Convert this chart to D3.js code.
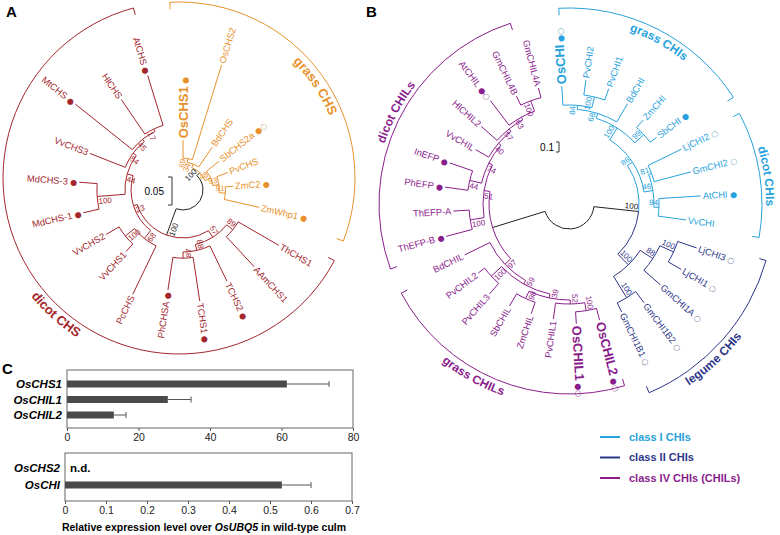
<!DOCTYPE html>
<html><head><meta charset="utf-8">
<script src="https://cdn.jsdelivr.net/npm/d3@7"></script>
<style>body{margin:0;background:#fff}svg{display:block}</style>
</head><body>
<svg id="c" width="780" height="535"></svg>
<script>
// ---------------- DATA ----------------
// Panel A: CHS tree (Newick, branch lengths in substitutions/site, internal labels = bootstrap)
const treeA_grass = "(((OsCHS1:0.032,OsCHS2:0.177)69:0.007,BdCHS:0.043)34:0.007,(SbCHS2a:0.029,(PvCHS:0.021,(ZmC2:0.014,ZmWhp1:0.064)91:0.011)93:0.011)48:0.011)100:0.007";
const treeA_dicot = "(((ThCHS1:0.084,AAmCHS1:0.073)89:0.014,(TCHS2:0.070,(TCHS1:0.079,PhCHSA:0.059)87:0.011)88:0.011)57:0.014,((PcCHS:0.096,(VvCHS1:0.018,VvCHS2:0.027)100:0.021)68:0.018,((MdCHS-1:0.029,MdCHS-3:0.032)100:0.050,(VvCHS3:0.068,(MtCHS:0.130,(HlCHS:0.075,AtCHS:0.093)17:0.005)45:0.005)54:0.007)44:0.011)23:0.007)100:0.050";
const grassCHS = ["OsCHS1","OsCHS2","BdCHS","SbCHS2a","PvCHS","ZmC2","ZmWhp1"];
const filledA = ["OsCHS1","SbCHS2a","ZmC2","ZmWhp1","TCHS2","TCHS1","PhCHSA","MdCHS-1","MdCHS-3","MtCHS","AtCHS"];
const openA = ["SbCHS2a"];
const boldA = ["OsCHS1"];

// Panel B: CHI / CHIL tree
const treeB_grassCHI = "(((OsCHI:0.19,(PvCHI2:0.15,PvCHI1:0.12)100:0.11)84:0.04,BdCHI:0.21)68:0.05,(ZmCHI:0.10,SbCHI:0.08)99:0.12)100:0.14";
const treeB_dicotCHI = "((LjCHI2:0.37,GmCHI2:0.38)81:0.03,(AtCHI:0.42,VvCHI:0.28)94:0.05)46:0.09";
const treeB_legume = "(((LjCHI3:0.20,LjCHI1:0.15)100:0.15,GmCHI1A:0.22)88:0.15,(GmCHI1B2:0.14,GmCHI1B1:0.10)100:0.25)100:0.15";
const treeB_grassCHIL = "(((((OsCHIL2:0.12,OsCHIL1:0.12)100:0.08,PvCHIL1:0.16)52:0.04,(ZmCHIL:0.12,SbCHIL:0.14)98:0.08)39:0.04,(PvCHIL3:0.14,PvCHIL2:0.08)100:0.14)59:0.04,BdCHIL:0.28)97:0.08";
const treeB_dicotCHIL = "((ThEFP-B:0.27,ThEFP-A:0.16)100:0.14,((PhEFP:0.23,InEFP:0.24)44:0.12,(VvCHIL:0.15,(HlCHIL2:0.21,(AtCHIL:0.31,(GmCHIL4B:0.10,GmCHIL4A:0.10)100:0.11)63:0.03)57:0.03)40:0.03)74:0.04)51:0.06";
const classI = ["OsCHI","PvCHI2","PvCHI1","BdCHI","ZmCHI","SbCHI","LjCHI2","GmCHI2","AtCHI","VvCHI"];
const classII = ["LjCHI3","LjCHI1","GmCHI1A","GmCHI1B2","GmCHI1B1"];
const filledB = ["OsCHI","SbCHI","AtCHI","AtCHIL","InEFP","PhEFP","ThEFP-B","OsCHIL1","OsCHIL2"];
const openB = ["OsCHI","LjCHI2","GmCHI2","LjCHI3","LjCHI1","GmCHI1A","GmCHI1B2","GmCHI1B1","AtCHIL","OsCHIL1","OsCHIL2"];
const boldB = ["OsCHI","OsCHIL1","OsCHIL2"];

// Panel C: expression
const genesC1 = ["OsCHS1","OsCHIL1","OsCHIL2"];
const valuesC1 = [61.5, 28.2, 13.1];
const errorsC1 = [11.8, 6.5, 3.4];
const ticksC1 = [0,20,40,60,80];
const genesC2 = ["OsCHS2","OsCHI"];
const valuesC2 = [null, 0.529];
const errorsC2 = [null, 0.071];
const ticksC2 = [0,0.1,0.2,0.3,0.4,0.5,0.6,0.7];
const legendItems = ["class I CHIs","class II CHIs","class IV CHIs (CHILs)"];

// ---------------- STYLE ----------------
const C = {dicotCHS:"#a3262c", grassCHS:"#e8912b", classI:"#27a2dc", classII:"#2d3689", chil:"#8a1d8c"};
const FONT = "'Liberation Sans', Arial, sans-serif";
const svg = d3.select("#c").attr("font-family", FONT);
const rad = d => d*Math.PI/180;
const isLeft = a => { const n = ((a%360)+360)%360; return n >= 180 && n < 355; };

function parseNewick(s){
  let i=0;
  function node(){
    const n={};
    if(s[i]==='('){ n.children=[]; i++; n.children.push(node()); while(s[i]===','){i++; n.children.push(node());} i++; }
    let name=''; while(i<s.length && !',():;'.includes(s[i])) name+=s[i++];
    n.name=name;
    n.length=0;
    if(s[i]===':'){ i++; let l=''; while(i<s.length && !',();'.includes(s[i])) l+=s[i++]; n.length=+l; }
    return n;
  }
  return node();
}

function drawTree(g, newick, o){
  const root = d3.hierarchy(parseNewick(newick));
  root.each(n => n.dist = n.parent ? n.parent.dist + n.data.length : 0);
  const leaves = root.leaves();
  const step = 360/leaves.length;
  leaves.forEach((l,i)=> l.angle = o.start + i*step);
  root.eachAfter(n => { if(n.children) n.angle = (n.children[0].angle + n.children[n.children.length-1].angle)/2; });
  const rs = d3.scaleLinear().domain([0,1]).range([o.r0, o.r0 + o.pxPerUnit]);
  const {cx, cy} = o;
  const colorOf = n => {
    if(!n.parent || n.parent === root) return "#222";
    const cs = new Set(n.leaves().map(l => o.leafColor(l.data.name)));
    return cs.size === 1 ? [...cs][0] : "#222";
  };
  const nodes = root.descendants().filter(n => n.parent);
  g.selectAll("path.br").data(nodes).join("path").attr("class","br")
    .attr("fill","none").attr("stroke", colorOf).attr("stroke-width",1)
    .attr("d", n => {
      const p = d3.path();
      const a0 = rad(n.parent.angle-90), a1 = rad(n.angle-90);
      const rp = rs(n.parent.dist), rn = rs(n.dist);
      p.moveTo(cx + rp*Math.cos(a0), cy + rp*Math.sin(a0));
      if(Math.abs(a1-a0) > 1e-6) p.arc(cx, cy, rp, a0, a1, a1 < a0);
      p.lineTo(cx + rn*Math.cos(a1), cy + rn*Math.sin(a1));
      return p.toString();
    });
  // leaf labels
  const lab = g.selectAll("text.leaf").data(leaves).join("text").attr("class","leaf")
    .attr("transform", d => `translate(${cx},${cy}) rotate(${d.angle-90}) translate(${rs(d.dist)+2},0)` + (isLeft(d.angle) ? " rotate(180)" : ""))
    .attr("text-anchor", d => isLeft(d.angle) ? "end" : "start")
    .attr("dy","0.35em")
    .attr("fill", d => o.leafColor(d.data.name))
    .attr("font-size", d => o.bold.includes(d.data.name) ? 13 : 9.3)
    .attr("font-weight", d => o.bold.includes(d.data.name) ? "bold" : "normal");
  lab.append("tspan").text(d => d.data.name);
  lab.filter(d => o.filled.includes(d.data.name)).append("tspan")
    .attr("font-size", 8).attr("font-weight","normal").attr("font-family","DejaVu Sans").text(" \u25CF");
  lab.filter(d => o.open.includes(d.data.name)).append("tspan")
    .attr("font-size", 8).attr("font-weight","normal").attr("font-family","DejaVu Sans")
    .attr("fill", d => d3.interpolateRgb(o.leafColor(d.data.name), "#bbb")(0.5))
    .text(d => o.filled.includes(d.data.name) ? "\u25CB" : " \u25CB");
  // bootstrap values
  const inner = root.descendants().filter(n => n.children && n.parent && n.data.name);
  g.selectAll("text.bs").data(inner).join("text").attr("class","bs")
    .attr("transform", d => `translate(${cx},${cy}) rotate(${d.angle-90}) translate(${rs(d.dist)-1},0)` + (isLeft(d.angle) ? " rotate(180)" : ""))
    .attr("text-anchor", d => isLeft(d.angle) ? "start" : "end")
    .attr("dy", d => isLeft(d.angle) ? "0.95em" : "-0.25em")
    .attr("font-size", 8).attr("fill", colorOf)
    .text(d => d.data.name);
  return {root, rs};
}

function bracket(g, o){
  const {cx, cy, R, a1, a2, color, label, inside, ccw} = o;
  const p = d3.path();
  const s = rad(a1-90), e = rad(a2-90), t = 7;
  p.moveTo(cx + (R-t)*Math.cos(s), cy + (R-t)*Math.sin(s));
  p.lineTo(cx + R*Math.cos(s), cy + R*Math.sin(s));
  p.arc(cx, cy, R, s, e, false);
  p.lineTo(cx + (R-t)*Math.cos(e), cy + (R-t)*Math.sin(e));
  g.append("path").attr("d", p.toString()).attr("fill","none").attr("stroke", color).attr("stroke-width",1);
  const fs = o.fs || 13;
  let lr;
  if(!ccw) lr = inside ? R - 4 - fs*0.72 : R + 4;
  else lr = inside ? R - 4 : R + 4 + fs*0.72;
  const mid = o.mid != null ? o.mid : (a1 + a2)/2;
  const ls = rad(mid - 60 - 90), le = rad(mid + 60 - 90);
  const lp = d3.path();
  if(!ccw){ lp.moveTo(cx + lr*Math.cos(ls), cy + lr*Math.sin(ls)); lp.arc(cx, cy, lr, ls, le, false); }
  else { lp.moveTo(cx + lr*Math.cos(le), cy + lr*Math.sin(le)); lp.arc(cx, cy, lr, le, ls, true); }
  const id = "lp" + Math.random().toString(36).slice(2);
  g.append("path").attr("id", id).attr("d", lp.toString()).attr("fill","none");
  g.append("text").attr("font-size", fs).attr("font-weight","bold").attr("fill", color)
    .append("textPath").attr("href", "#"+id).attr("startOffset","50%").attr("text-anchor","middle").text(label);
}

// ---------------- PANEL A ----------------
const gA = svg.append("g");
const A = {cx:183, cy:190, r0:20, pxPerUnit:560, start:0,
  leafColor: n => grassCHS.includes(n) ? C.grassCHS : C.dicotCHS,
  filled: filledA, open: openA, bold: boldA};
const treeA = drawTree(gA, "(" + treeA_grass + "," + treeA_dicot + ");", A);
bracket(gA, {cx:179, cy:178, R:176, a1:-3, a2:111, color:C.grassCHS, label:"grass CHS", inside:true, mid:56});
bracket(gA, {cx:179, cy:178, R:176, a1:118, a2:345, color:C.dicotCHS, label:"dicot CHS", inside:false, ccw:true, mid:222});
// scale bar A
{ const len = treeA.rs(0.05) - treeA.rs(0);
  gA.append("path").attr("d", `M168,177 H172 V${177+len} H168`).attr("fill","none").attr("stroke","#333");
  gA.append("text").attr("x",164).attr("y",177+len/2+4).attr("text-anchor","end").attr("font-size",10).text("0.05"); }

// ---------------- PANEL B ----------------
const gB = svg.append("g");
const B = {cx:569, cy:204, r0:25, pxPerUnit:100, start:-3.5,
  leafColor: n => classI.includes(n) ? C.classI : classII.includes(n) ? C.classII : C.chil,
  filled: filledB, open: openB, bold: boldB};
const treeB = drawTree(gB, "((" + "(" + treeB_grassCHI + "," + treeB_dicotCHI + ")86:0.06," + treeB_legume + ")100:0.45,(" + treeB_grassCHIL + "," + treeB_dicotCHIL + "):0.55);", B);
bracket(gB, {cx:569, cy:204, R:196, a1:-3, a2:57, color:C.classI, label:"grass CHIs", inside:true, fs:12, mid:29});
bracket(gB, {cx:569, cy:204, R:193, a1:62, a2:100, color:C.classI, label:"dicot CHIs", inside:false, fs:12, mid:82});
bracket(gB, {cx:569, cy:204, R:205, a1:106, a2:157, color:C.classII, label:"legume CHIs", inside:false, ccw:true, fs:12, mid:137});
bracket(gB, {cx:569, cy:204, R:190, a1:163, a2:242, color:C.chil, label:"grass CHILs", inside:false, ccw:true, fs:12, mid:209});
bracket(gB, {cx:569, cy:204, R:190, a1:250, a2:342, color:C.chil, label:"dicot CHILs", inside:false, fs:12, mid:298});
{ const len = treeB.rs(0.1) - treeB.rs(0);
  gB.append("path").attr("d", `M556,142 H559 V${142+len} H556`).attr("fill","none").attr("stroke","#333");
  gB.append("text").attr("x",554).attr("y",142+len/2+4).attr("text-anchor","end").attr("font-size",10).text("0.1"); }

// legend
const legColors = [C.classI, C.classII, C.chil];
const lg = svg.append("g").selectAll("g").data(legendItems).join("g")
  .attr("transform", (d,i) => `translate(600,${437 + i*20.5})`);
lg.append("line").attr("x1",0).attr("x2",20).attr("stroke",(d,i)=>legColors[i]).attr("stroke-width",2);
lg.append("text").attr("x",29).attr("dy","0.35em").attr("font-size",11).attr("font-weight","bold")
  .attr("fill",(d,i)=>legColors[i]).text(d=>d);

// panel letters
svg.append("text").attr("x",6).attr("y",17).attr("font-size",15).attr("font-weight","bold").text("A");
svg.append("text").attr("x",366).attr("y",17).attr("font-size",15).attr("font-weight","bold").text("B");
svg.append("text").attr("x",2).attr("y",374).attr("font-size",15).attr("font-weight","bold").text("C");

// ---------------- PANEL C ----------------
const gC = svg.append("g");
function barChart(o){
  const x = d3.scaleLinear().domain(o.domain).range([o.x0, o.x1]);
  const y = d3.scalePoint().domain(o.genes).range(o.yr);
  gC.append("rect").attr("x",o.x0).attr("y",o.y0).attr("width",o.x1-o.x0).attr("height",o.y1-o.y0)
    .attr("fill","none").attr("stroke","#666").attr("stroke-width",1);
  const ax = gC.append("g").attr("transform",`translate(0,${o.y1})`)
    .call(d3.axisBottom(x).tickValues(o.ticks).tickSize(3).tickSizeOuter(0).tickFormat(o.fmt));
  ax.select(".domain").remove();
  ax.selectAll("line").attr("stroke","#555");
  ax.selectAll("text").attr("font-size",10.5).attr("font-family",FONT).attr("fill","#222");
  const rows = o.genes.map((g,i)=>({g, v:o.values[i], e:o.errors[i]}));
  gC.selectAll(null).data(rows).join("text").attr("x",o.x0-5).attr("y",d=>y(d.g)).attr("dy","0.35em")
    .attr("text-anchor","end").attr("font-size",11.5).attr("font-weight","bold").attr("font-style","italic").text(d=>d.g);
  const vr = rows.filter(d=>d.v!=null);
  gC.selectAll(null).data(vr).join("rect").attr("x",x(0)).attr("y",d=>y(d.g)-3.5).attr("height",7)
    .attr("width",d=>x(d.v)-x(0)).attr("fill","#4a4a4a");
  gC.selectAll(null).data(vr).join("path").attr("fill","none").attr("stroke","#555")
    .attr("d",d=>`M${x(d.v)},${y(d.g)} H${x(d.v+d.e)} M${x(d.v+d.e)},${y(d.g)-3} V${y(d.g)+3}`);
  rows.filter(d=>d.v==null).forEach(d=>{
    gC.append("text").attr("x",x(0)+5).attr("y",y(d.g)).attr("dy","0.35em").attr("font-size",11.5)
      .attr("font-weight","bold").text("n.d.");
  });
}
barChart({genes:genesC1, values:valuesC1, errors:errorsC1, domain:[0,80], ticks:ticksC1, fmt:d3.format("d"),
  x0:67, x1:353, y0:370, y1:428, yr:[384,415]});
barChart({genes:genesC2, values:valuesC2, errors:errorsC2, domain:[0,0.7], ticks:ticksC2, fmt:d=>d===0?"0":d3.format(".1f")(d),
  x0:65, x1:352, y0:453, y1:501, yr:[468,485]});
const tt = gC.append("text").attr("x",204).attr("y",531).attr("text-anchor","middle").attr("font-size",10.5).attr("font-weight","bold");
tt.append("tspan").text("Relative expression level over ");
tt.append("tspan").attr("font-style","italic").text("OsUBQ5");
tt.append("tspan").text(" in wild-type culm");
</script>
</body></html>
